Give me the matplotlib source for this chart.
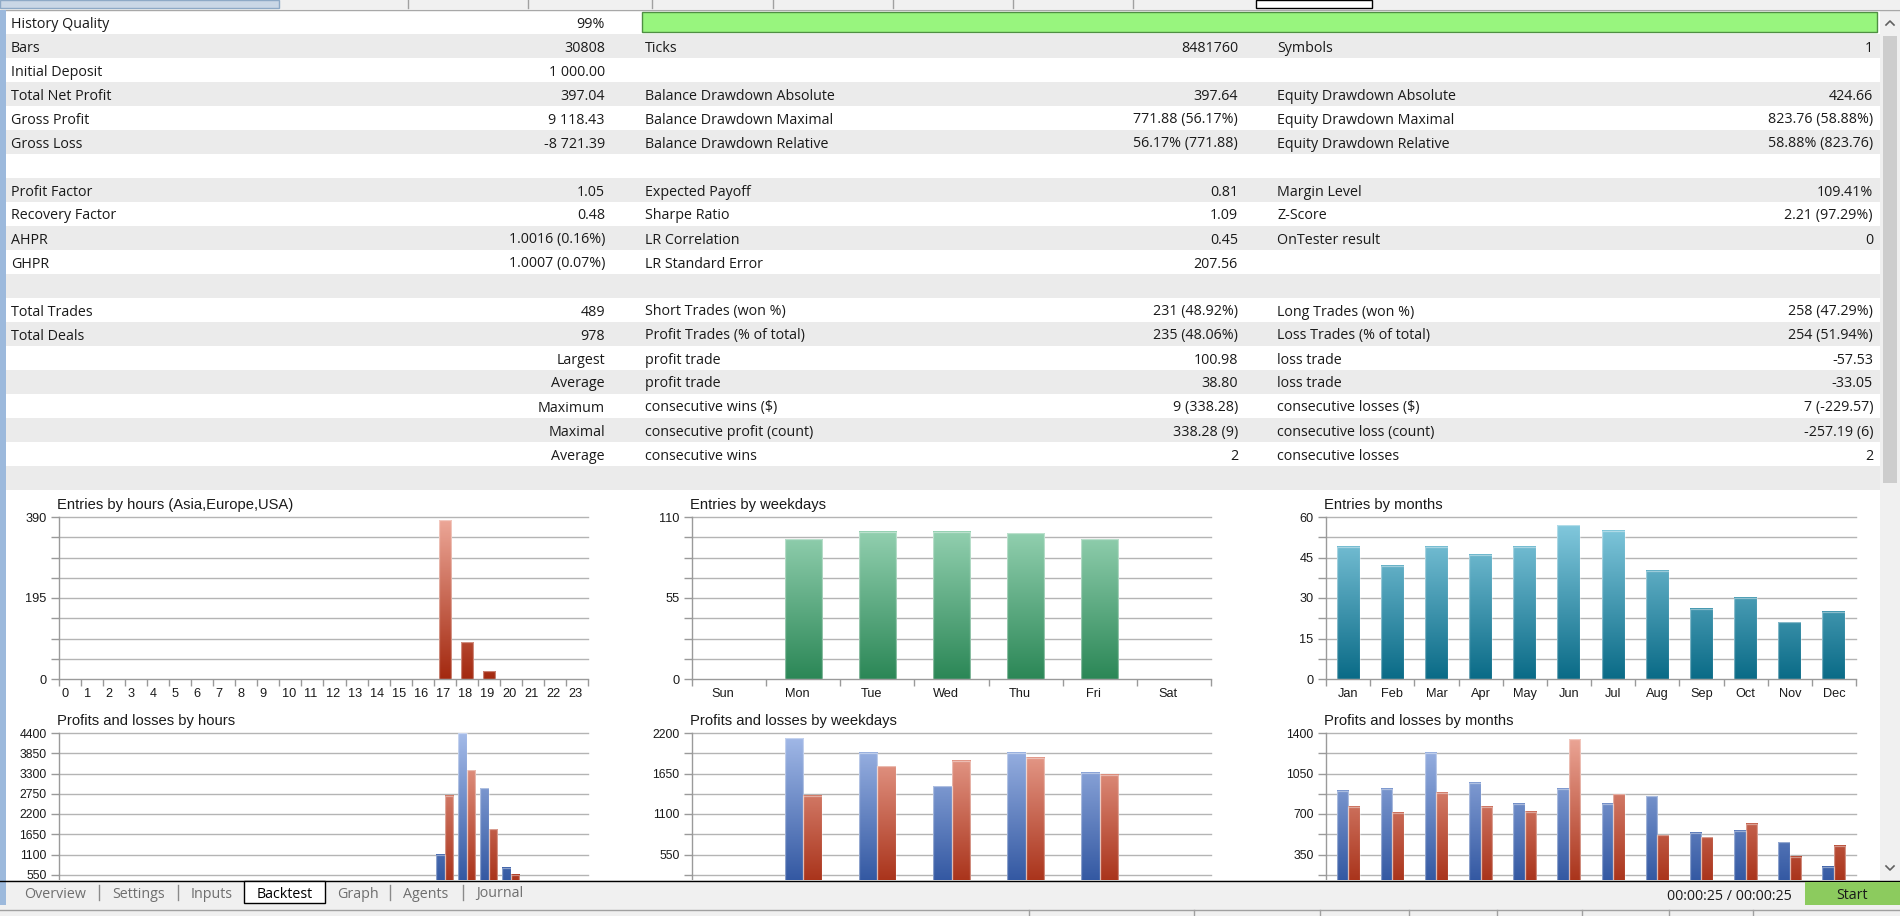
import numpy as np
import matplotlib
matplotlib.use("Agg")
import matplotlib.pyplot as plt
from matplotlib.patches import Rectangle
from matplotlib.lines import Line2D

# ---------------- data ----------------
col1_labels = ["History Quality", "Bars", "Initial Deposit", "Total Net Profit", "Gross Profit", "Gross Loss", "",
               "Profit Factor", "Recovery Factor", "AHPR", "GHPR", "", "Total Trades", "Total Deals",
               "", "", "", "", "", ""]
col1_values = ["99%", "30808", "1 000.00", "397.04", "9 118.43", "-8 721.39", "",
               "1.05", "0.48", "1.0016 (0.16%)", "1.0007 (0.07%)", "", "489", "978",
               "Largest", "Average", "Maximum", "Maximal", "Average", ""]
col2_labels = ["", "Ticks", "", "Balance Drawdown Absolute", "Balance Drawdown Maximal", "Balance Drawdown Relative", "",
               "Expected Payoff", "Sharpe Ratio", "LR Correlation", "LR Standard Error", "",
               "Short Trades (won %)", "Profit Trades (% of total)", "profit trade", "profit trade",
               "consecutive wins ($)", "consecutive profit (count)", "consecutive wins", ""]
col2_values = ["", "8481760", "", "397.64", "771.88 (56.17%)", "56.17% (771.88)", "",
               "0.81", "1.09", "0.45", "207.56", "", "231 (48.92%)", "235 (48.06%)", "100.98", "38.80",
               "9 (338.28)", "338.28 (9)", "2", ""]
col3_labels = ["", "Symbols", "", "Equity Drawdown Absolute", "Equity Drawdown Maximal", "Equity Drawdown Relative", "",
               "Margin Level", "Z-Score", "OnTester result", "", "", "Long Trades (won %)", "Loss Trades (% of total)",
               "loss trade", "loss trade", "consecutive losses ($)", "consecutive loss (count)", "consecutive losses", ""]
col3_values = ["", "1", "", "424.66", "823.76 (58.88%)", "58.88% (823.76)", "",
               "109.41%", "2.21 (97.29%)", "0", "", "", "258 (47.29%)", "254 (51.94%)",
               "-57.53", "-33.05", "7 (-229.57)", "-257.19 (6)", "2", ""]
history_quality = 99

hour_labels = ["0", "1", "2", "3", "4", "5", "6", "7", "8", "9", "10", "11", "12", "13", "14", "15", "16",
               "17", "18", "19", "20", "21", "22", "23"]
entries_hours = [0, 0, 0, 0, 0, 0, 0, 0, 0, 0, 0, 0, 0, 0, 0, 0, 0, 382, 88, 19, 0, 0, 0, 0]
profit_hours = [0, 0, 0, 0, 0, 0, 0, 0, 0, 0, 0, 0, 0, 0, 0, 0, 0, 1100, 4390, 2900, 740, 0, 0, 0]
loss_hours = [0, 0, 0, 0, 0, 0, 0, 0, 0, 0, 0, 0, 0, 0, 0, 0, 0, 2700, 3390, 1790, 545, 0, 0, 0]

weekday_labels = ["Sun", "Mon", "Tue", "Wed", "Thu", "Fri", "Sat"]
entries_weekdays = [0, 95, 100, 100, 99, 95, 0]
profit_weekdays = [0, 2130, 1935, 1477, 1930, 1663, 0]
loss_weekdays = [0, 1350, 1748, 1825, 1866, 1635, 0]

month_labels = ["Jan", "Feb", "Mar", "Apr", "May", "Jun", "Jul", "Aug", "Sep", "Oct", "Nov", "Dec"]
entries_months = [49, 42, 49, 46, 49, 57, 55, 40, 26, 30, 21, 25]
profit_months = [899, 917, 1230, 971, 787, 919, 790, 853, 539, 554, 456, 246]
loss_months = [764, 712, 882, 764, 721, 1348, 870, 516, 499, 614, 332, 424]

ylab_entries_hours = [0, 195, 390]
ylab_entries_weekdays = [0, 55, 110]
ylab_entries_months = [0, 15, 30, 45, 60]
# the zero line of the lower charts is hidden behind the tab bar in the reference
ylab_pl_hours = [550, 1100, 1650, 2200, 2750, 3300, 3850, 4400]
ylab_pl_weekdays = [550, 1100, 1650, 2200]
ylab_pl_months = [350, 700, 1050, 1400]

tab_names = ["Overview", "Settings", "Inputs", "Backtest", "Graph", "Agents", "Journal"]
time_text = "00:00:25 / 00:00:25"

# ---------------- setup ----------------
W, H = 1900, 916
UI_FONT = "Open Sans"
CH_FONT = "Liberation Sans"
plt.rcParams["font.family"] = [CH_FONT, "DejaVu Sans"]

fig = plt.figure(figsize=(19, 9.16), dpi=100)
fig.patch.set_facecolor("white")
renderer = fig.canvas.get_renderer()


def fit_size(s, target_px, family, base=10.0):
    t = fig.text(0, 0, s, fontsize=base, family=family)
    w = t.get_window_extent(renderer=renderer).width
    t.remove()
    return base * target_px / w


ui_fs = fit_size("Balance Drawdown Absolute", 191, UI_FONT)
title_fs = fit_size("Entries by hours (Asia,Europe,USA)", 235, CH_FONT)
tick_fs = 9.2
GRID_C = "#b4b4b4"
AXIS_C = "#9a9a9a"


def R(x0, y0, x1, y1, z=0.5, **kw):
    kw.setdefault("ec", "none")
    fig.add_artist(Rectangle((x0 / W, 1 - y1 / H), (x1 - x0) / W, (y1 - y0) / H,
                             transform=fig.transFigure, zorder=z, **kw))


def L(xs, ys, z=0.6, **kw):
    fig.add_artist(Line2D([x / W for x in xs], [1 - y / H for y in ys],
                          transform=fig.transFigure, zorder=z, **kw))


def T(x, y, s, z=1, **kw):
    kw.setdefault("family", UI_FONT)
    kw.setdefault("fontsize", ui_fs)
    kw.setdefault("color", "#1a1a1a")
    fig.text(x / W, 1 - y / H, s, zorder=z, **kw)


# ---------------- window chrome ----------------
R(0, 0, W, 9, fc="#f0f0f0")
R(0, 0, 279, 8, fc="#cad7e6", ec="#8ea9c6", lw=1)
for sx in [408, 528, 652, 773, 893, 1013, 1133]:
    L([sx, sx], [0, 8], color="#a0a0a0", lw=1)
R(1256, 0, 1372, 8, fc="white", ec="black", lw=1)
L([0, W], [9.5, 9.5], color="#a8a8a8", lw=1)

R(0, 10, 6, 905, z=11, fc="#9cb9dc")

# scrollbar
R(1880, 10, W, 880, fc="#f0f0f0")
R(1883, 36, 1897, 483, fc="#cdcdcd")
L([1886, 1890, 1894], [25, 21, 25], color="#606060", lw=1.2)
L([1886, 1890, 1894], [866, 870, 866], color="#606060", lw=1.2)

# ---------------- table ----------------
ROW_TOP, ROW_H = 10, 24
for i in range(len(col1_labels)):
    top = ROW_TOP + ROW_H * i
    if i % 2 == 1:
        R(6, top, 1880, top + ROW_H, z=0.2, fc="#ebebeb")
    yc = top + ROW_H / 2
    T(11, yc, col1_labels[i], ha="left", va="center_baseline")
    T(605, yc, col1_values[i], ha="right", va="center_baseline")
    T(645, yc, col2_labels[i], ha="left", va="center_baseline")
    T(1238, yc, col2_values[i], ha="right", va="center_baseline")
    T(1277, yc, col3_labels[i], ha="left", va="center_baseline")
    T(1873, yc, col3_values[i], ha="right", va="center_baseline")

# history quality bar
R(642, 12, 642 + (1877 - 642) * history_quality / 99, 32, z=0.7, fc="#98f57e", ec="#4f8f43", lw=1)

# ---------------- charts ----------------
RED = (np.array([0.64, 0.16, 0.06]), np.array([0.93, 0.66, 0.60]))
BLUE = (np.array([0.16, 0.31, 0.61]), np.array([0.64, 0.73, 0.91]))
GREEN = (np.array([0.17, 0.53, 0.34]), np.array([0.61, 0.84, 0.72]))
TEAL = (np.array([0.04, 0.42, 0.53]), np.array([0.53, 0.80, 0.88]))


def grad_bars(ax, x, heights, width, ymax, colors):
    cb, ct = colors
    bars = ax.bar(x, heights, width, color="none", edgecolor=(1, 1, 1, 0.4), linewidth=0.9, zorder=3)
    for b in bars:
        h = b.get_height()
        if h <= 0:
            b.set_visible(False)
            continue
        x0, w = b.get_x(), b.get_width()
        t = np.linspace(0, h / ymax, 64)[:, None]
        img = (cb + (ct - cb) * t)[:, None, :]
        ax.imshow(img, extent=(x0, x0 + w, 0, h), origin="lower", aspect="auto",
                  interpolation="bilinear", zorder=2)


def chart(x0, x1, y_top, title, xlabels, series, ymax, ylabels, ngrid=8,
          label_align="center", label_shift_px=0.0, show_x=True, ylab_fs=tick_fs):
    y_bot = y_top + 162
    ax = fig.add_axes([x0 / W, 1 - y_bot / H, (x1 - x0) / W, (y_bot - y_top) / H])
    ax.set_facecolor("none")
    n = len(xlabels)
    xs = np.arange(n)
    cat_px = (x1 - x0) / n
    for vals, off, w, cols in series:
        grad_bars(ax, xs + off, vals, w, ymax, cols)
    ax.set_xlim(-0.5, n - 0.5)
    ax.set_ylim(0, ymax)
    for s in ["top", "right"]:
        ax.spines[s].set_visible(False)
    for s in ["left", "bottom"]:
        ax.spines[s].set_color(AXIS_C)
        ax.spines[s].set_linewidth(1)
    yt = np.linspace(0, ymax, ngrid + 1)
    ax.set_yticks(yt)
    ax.set_yticklabels([str(int(round(v))) if any(np.isclose(v, l) for l in ylabels) else "" for v in yt])
    for v in yt[1:]:
        ax.axhline(v, color=GRID_C, lw=1, zorder=1, clip_on=False)
    ax.tick_params(axis="y", length=6, color=AXIS_C, width=1, pad=3,
                   labelsize=ylab_fs, labelcolor="#1a1a1a")
    ax.set_xticks(np.arange(n + 1) - 0.5)
    ax.set_xticklabels([])
    ax.tick_params(axis="x", which="major", length=5, color=AXIS_C, width=1)
    if show_x:
        if label_align == "left":
            pos = xs - 0.5 + 2.5 / cat_px
        else:
            pos = xs + label_shift_px / cat_px
        ax.set_xticks(pos, minor=True)
        ax.set_xticklabels(xlabels, minor=True, ha=label_align)
        ax.tick_params(axis="x", which="minor", length=0, pad=6.5, labelsize=tick_fs, labelcolor="#1a1a1a")
    T(x0 - 2, y_top - 12, title, family=CH_FONT, fontsize=title_fs, ha="left", va="center")
    return ax


TOP1, TOP2 = 517, 733
HX = (59, 588)
DX = (692, 1211)
MX = (1326, 1856)

chart(*HX, TOP1, "Entries by hours (Asia,Europe,USA)", hour_labels,
      [(entries_hours, 0, 0.55, RED)], 390, ylab_entries_hours, label_align="left")
chart(*DX, TOP1, "Entries by weekdays", weekday_labels,
      [(entries_weekdays, 0, 0.5, GREEN)], 110, ylab_entries_weekdays, label_shift_px=-6)
chart(*MX, TOP1, "Entries by months", month_labels,
      [(entries_months, 0, 0.52, TEAL)], 60, ylab_entries_months)

chart(*HX, TOP2, "Profits and losses by hours", hour_labels,
      [(profit_hours, -0.195, 0.39, BLUE), (loss_hours, 0.195, 0.39, RED)], 4400, ylab_pl_hours,
      show_x=False, ylab_fs=8.8)
chart(*DX, TOP2, "Profits and losses by weekdays", weekday_labels,
      [(profit_weekdays, -0.125, 0.25, BLUE), (loss_weekdays, 0.125, 0.25, RED)], 2200, ylab_pl_weekdays,
      show_x=False, ylab_fs=8.8)
chart(*MX, TOP2, "Profits and losses by months", month_labels,
      [(profit_months, -0.13, 0.26, BLUE), (loss_months, 0.13, 0.26, RED)], 1400, ylab_pl_months,
      show_x=False, ylab_fs=8.8)

# ---------------- bottom tab bar (drawn over charts) ----------------
R(0, 880, W, 916, z=10, fc="#f0f0f0")
L([0, W], [880.5, 880.5], z=11, color="black", lw=1)
R(244, 880.5, 325, 903, z=11, fc="white", ec="black", lw=1)
for sx in [99, 178, 390, 463]:
    L([sx, sx], [885, 900], z=11, color="#8a8a8a", lw=1)
tab_centers = [55, 139, 212, 285, 358, 426, 500]
for name, cx in zip(tab_names, tab_centers):
    T(cx, 892, name, z=12, ha="center", va="center_baseline",
      color="black" if name == "Backtest" else "#6e6e6e")
L([0, W], [909.5, 909.5], z=11, color="#a0a0a0", lw=1)
for sx in [1029, 1194, 1320, 1409, 1497, 1582, 1669, 1753]:
    L([sx, sx], [910, 916], z=11, color="#a0a0a0", lw=1)
T(1792, 894, time_text, z=12, ha="right", va="center_baseline")
R(1805, 882, W, 905, z=11, fc="#8ccb5e")
T(1852, 893.5, "Start", z=12, ha="center", va="center_baseline")

fig.savefig("out.png", dpi=100, facecolor="white")
